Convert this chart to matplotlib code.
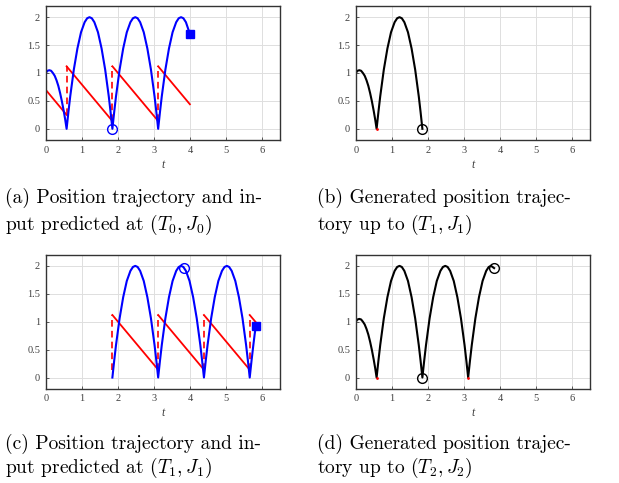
import matplotlib
matplotlib.use("Agg")
import matplotlib.pyplot as plt

plt.rcParams['mathtext.fontset'] = 'cm'

# generated position trajectory, t from 0 up to (T2, J2)
gen_t = [0, 0.05, 0.1, 0.15, 0.2, 0.25, 0.3, 0.35, 0.4, 0.45, 0.5, 0.54, 0.58,
         0.63, 0.68, 0.78, 0.88, 0.98, 1.08, 1.15, 1.215, 1.28, 1.35, 1.45, 1.55, 1.65, 1.75, 1.8, 1.85,
         1.9, 1.95, 2.05, 2.15, 2.25, 2.35, 2.42, 2.485, 2.55, 2.62, 2.72, 2.82, 2.92, 3.02, 3.07, 3.12,
         3.17, 3.22, 3.32, 3.42, 3.52, 3.62, 3.69, 3.755, 3.84]
gen_x = [1.0, 1.04, 1.05, 1.04, 1.0, 0.95, 0.87, 0.77, 0.64, 0.49, 0.32, 0.17, 0.0,
         0.30, 0.58, 1.06, 1.44, 1.73, 1.91, 1.98, 2.0, 1.98, 1.91, 1.73, 1.44, 1.06, 0.58, 0.30, 0.0,
         0.30, 0.58, 1.06, 1.44, 1.73, 1.91, 1.98, 2.0, 1.98, 1.91, 1.73, 1.44, 1.06, 0.58, 0.30, 0.0,
         0.30, 0.58, 1.06, 1.44, 1.73, 1.91, 1.98, 2.0, 1.96]

# predicted at (T0, J0)
pred_a_t = [0, 0.05, 0.1, 0.15, 0.2, 0.25, 0.3, 0.35, 0.4, 0.45, 0.5, 0.54, 0.58,
            0.63, 0.68, 0.78, 0.88, 0.98, 1.08, 1.15, 1.215, 1.28, 1.35, 1.45, 1.55, 1.65, 1.75, 1.8, 1.85,
            1.9, 1.95, 2.05, 2.15, 2.25, 2.35, 2.42, 2.485, 2.55, 2.62, 2.72, 2.82, 2.92, 3.02, 3.07, 3.12,
            3.17, 3.22, 3.32, 3.42, 3.52, 3.62, 3.69, 3.755, 3.82, 3.89, 4.0]
pred_a_x = [1.0, 1.04, 1.05, 1.04, 1.0, 0.95, 0.87, 0.77, 0.64, 0.49, 0.32, 0.17, 0.0,
            0.30, 0.58, 1.06, 1.44, 1.73, 1.91, 1.98, 2.0, 1.98, 1.91, 1.73, 1.44, 1.06, 0.58, 0.30, 0.0,
            0.30, 0.58, 1.06, 1.44, 1.73, 1.91, 1.98, 2.0, 1.98, 1.91, 1.73, 1.44, 1.06, 0.58, 0.30, 0.0,
            0.30, 0.58, 1.06, 1.44, 1.73, 1.91, 1.98, 2.0, 1.98, 1.91, 1.70]
u_a_t = [0, 0.58, 0.58, 1.85, 1.85, 3.12, 3.12, 4.0]
u_a = [0.70, 0.25, 1.12, 0.14, 1.12, 0.14, 1.12, 0.44]

# predicted at (T1, J1)
pred_c_t = [1.85, 1.9, 1.95, 2.05, 2.15, 2.25, 2.35, 2.42, 2.485, 2.55, 2.62, 2.72, 2.82, 2.92, 3.02, 3.07, 3.12,
            3.17, 3.22, 3.32, 3.42, 3.52, 3.62, 3.69, 3.755, 3.82, 3.89, 3.99, 4.09, 4.19, 4.29, 4.34, 4.39,
            4.44, 4.49, 4.59, 4.69, 4.79, 4.89, 4.96, 5.025, 5.09, 5.16, 5.26, 5.36, 5.46, 5.56, 5.61, 5.66,
            5.71, 5.76, 5.8, 5.83]
pred_c_x = [0.0, 0.30, 0.58, 1.06, 1.44, 1.73, 1.91, 1.98, 2.0, 1.98, 1.91, 1.73, 1.44, 1.06, 0.58, 0.30, 0.0,
            0.30, 0.58, 1.06, 1.44, 1.73, 1.91, 1.98, 2.0, 1.98, 1.91, 1.73, 1.44, 1.06, 0.58, 0.30, 0.0,
            0.30, 0.58, 1.06, 1.44, 1.73, 1.91, 1.98, 2.0, 1.98, 1.91, 1.73, 1.44, 1.06, 0.58, 0.30, 0.0,
            0.30, 0.58, 0.79, 0.92]
u_c_t = [1.85, 1.85, 3.12, 3.12, 4.39, 4.39, 5.66, 5.66, 5.83]
u_c = [0.14, 1.12, 0.14, 1.12, 0.14, 1.12, 0.14, 1.12, 0.99]

# jump instants (T1, J1) and (T2, J2)
jump1 = (1.85, 0.0)
jump2 = (3.84, 1.96)

captions = [
    ["(a) Position trajectory and in-", "put predicted at $(T_0, J_0)$"],
    ["(b) Generated position trajec-", "tory up to $(T_1, J_1)$"],
    ["(c) Position trajectory and in-", "put predicted at $(T_1, J_1)$"],
    ["(d) Generated position trajec-", "tory up to $(T_2, J_2)$"],
]

W, H = 619, 483
fig = plt.figure(figsize=(W / 100, H / 100), dpi=100)

ax_px = [(45.7, 6), (355.7, 6), (45.7, 254.7), (355.7, 254.7)]
axes = []
for (l, t) in ax_px:
    ax = fig.add_axes([l / W, 1 - (t + 134) / H, 234.3 / W, 134 / H])
    axes.append(ax)


def plot_input(ax, ts, us):
    for i in range(len(ts) - 1):
        if ts[i] == ts[i + 1]:
            ax.plot(ts[i:i + 2], us[i:i + 2], color='red', lw=1.2, ls=(0, (4, 2.5)))
        else:
            ax.plot(ts[i:i + 2], us[i:i + 2], color='red', lw=1.3)


# (a)
ax = axes[0]
plot_input(ax, u_a_t, u_a)
ax.plot(pred_a_t, pred_a_x, color='blue', lw=1.5)
ax.plot(*jump1, 'o', mfc='none', mec='blue', ms=7, mew=1.0)
ax.plot(pred_a_t[-1], pred_a_x[-1], 's', color='blue', ms=6)

# (b)
ax = axes[1]
nb = gen_t.index(1.85) + 1
ax.plot(gen_t[:nb], gen_x[:nb], color='black', lw=1.5)
ax.plot([0.58], [0.0], '.', color='red', ms=2)
ax.plot(*jump1, 'o', mfc='none', mec='black', ms=7, mew=1.0)

# (c)
ax = axes[2]
plot_input(ax, u_c_t, u_c)
ax.plot(pred_c_t, pred_c_x, color='blue', lw=1.5)
ax.plot(*jump2, 'o', mfc='none', mec='blue', ms=7, mew=1.0)
ax.plot(pred_c_t[-1], pred_c_x[-1], 's', color='blue', ms=6)

# (d)
ax = axes[3]
ax.plot(gen_t, gen_x, color='black', lw=1.5)
ax.plot([0.58, 3.12], [0.0, 0.0], '.', color='red', ms=2)
ax.plot(*jump1, 'o', mfc='none', mec='black', ms=7, mew=1.0)
ax.plot(*jump2, 'o', mfc='none', mec='black', ms=7, mew=1.0)

for ax in axes:
    ax.set_xlim(0, 6.5)
    ax.set_ylim(-0.2, 2.2)
    ax.set_xticks([0, 1, 2, 3, 4, 5, 6])
    ax.set_yticks([0, 0.5, 1, 1.5, 2])
    ax.set_yticklabels(['0', '0.5', '1', '1.5', '2'])
    ax.grid(True, color='0.87', lw=0.7)
    ax.set_axisbelow(True)
    ax.tick_params(direction='in', length=2, width=0.6, colors='0.25', labelsize=7.5, pad=4)
    for lab in ax.get_xticklabels() + ax.get_yticklabels():
        lab.set_family('Liberation Serif')
    for s in ax.spines.values():
        s.set_color('0.2')
        s.set_linewidth(1.0)
    ax.set_xlabel('t', family='Liberation Serif', style='italic', fontsize=8.5,
                  color='0.25', labelpad=3)

cap_x = [5, 317, 5, 317]
cap_y = [(203, 229.5), (203, 229.5), (449, 472.5), (449, 472.5)]
for i, lines in enumerate(captions):
    for j, line in enumerate(lines):
        fig.text(cap_x[i] / W, 1 - cap_y[i][j] / H, line, family='cmr10',
                 fontsize=14, va='baseline', ha='left')

fig.savefig('out.png', dpi=100)
